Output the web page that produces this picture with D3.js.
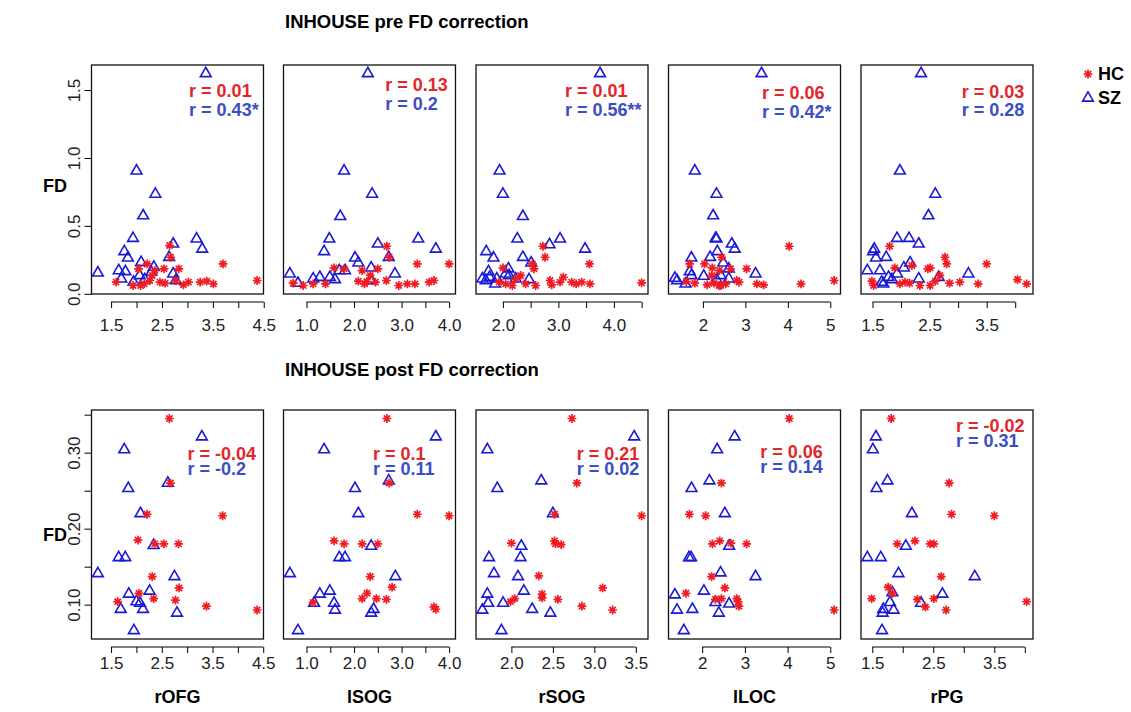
<!DOCTYPE html>
<html>
<head>
<meta charset="utf-8">
<script src="https://cdnjs.cloudflare.com/ajax/libs/d3/7.8.5/d3.min.js"></script>
<style>
body { margin: 0; background: #fff; }
svg { font-family: "Liberation Sans", Arial, sans-serif; }
</style>
</head>
<body>
<svg id="chart" width="1131" height="712"></svg>
<script>
var regions = ["rOFG", "lSOG", "rSOG", "lLOC", "rPG"];
var rowTitles = ["INHOUSE pre FD correction", "INHOUSE post FD correction"];

// pre FD correction: [region value, FD]
var hcPreROFG = [[2.65,0.355],[2.67,0.269],[3.70,0.22],[2.21,0.22],[2.04,0.184],[2.36,0.171],[2.54,0.184],[2.83,0.184],[2.31,0.135],[1.60,0.086],[2.08,0.061],[2.26,0.098],[2.46,0.086],[2.56,0.078],[2.77,0.098],[2.92,0.066],[3.02,0.086],[3.25,0.086],[3.38,0.093],[3.51,0.073],[4.37,0.098],[2.15,0.073],[1.93,0.061]];
var szPreROFG = [[3.36,1.622],[2.00,0.905],[2.37,0.734],[2.13,0.575],[1.93,0.409],[3.18,0.404],[2.72,0.367],[3.29,0.33],[1.76,0.311],[2.64,0.269],[1.83,0.264],[2.09,0.232],[2.34,0.196],[1.24,0.154],[1.65,0.171],[1.78,0.164],[2.72,0.147],[2.29,0.159],[2.06,0.135],[2.77,0.098],[1.70,0.11],[1.94,0.086],[2.16,0.105]];
var hcPreLSOG = [[2.69,0.35],[2.74,0.269],[3.33,0.22],[4.00,0.22],[1.58,0.191],[1.79,0.184],[2.17,0.171],[2.50,0.184],[2.34,0.135],[0.72,0.078],[0.93,0.061],[1.14,0.073],[1.40,0.073],[2.09,0.093],[2.22,0.073],[2.27,0.09],[2.68,0.098],[2.94,0.061],[3.12,0.073],[3.28,0.073],[3.58,0.086],[3.68,0.098],[2.45,0.086]];
var szPreLSOG = [[2.29,1.622],[1.79,0.905],[2.38,0.734],[1.71,0.57],[1.48,0.404],[3.35,0.404],[1.37,0.311],[2.50,0.367],[3.72,0.33],[2.73,0.269],[2.02,0.264],[2.09,0.228],[2.36,0.191],[0.65,0.147],[1.69,0.171],[1.81,0.171],[2.86,0.147],[1.28,0.122],[1.14,0.11],[1.49,0.122],[1.60,0.105],[2.36,0.098],[0.82,0.078]];
var hcPreRSOG = [[2.72,0.35],[2.76,0.269],[3.56,0.22],[2.53,0.22],[2.00,0.191],[2.56,0.184],[2.32,0.135],[2.23,0.11],[2.85,0.098],[2.88,0.066],[3.03,0.086],[3.09,0.122],[3.24,0.086],[3.32,0.073],[3.42,0.086],[3.57,0.073],[4.50,0.081],[2.05,0.073],[2.17,0.061],[2.41,0.073],[2.59,0.061],[1.93,0.086]];
var szPreRSOG = [[3.75,1.622],[1.94,0.905],[2.00,0.734],[2.36,0.57],[2.26,0.404],[3.03,0.404],[2.84,0.362],[3.48,0.33],[1.70,0.311],[1.83,0.264],[2.36,0.269],[2.51,0.228],[2.10,0.184],[1.74,0.164],[1.63,0.11],[2.11,0.135],[1.76,0.122],[1.89,0.11],[2.23,0.11],[2.47,0.105],[1.86,0.073],[2.05,0.147],[1.69,0.098]];
var hcPreLLOC = [[4.03,0.35],[2.44,0.269],[1.69,0.22],[2.04,0.22],[2.22,0.191],[2.39,0.171],[2.65,0.184],[3.03,0.184],[2.21,0.135],[1.61,0.09],[1.81,0.078],[2.10,0.066],[2.26,0.078],[2.38,0.061],[2.54,0.073],[2.80,0.098],[2.85,0.086],[3.27,0.073],[3.43,0.066],[4.31,0.073],[5.09,0.098],[2.42,0.061]];
var szPreLLOC = [[3.38,1.622],[1.81,0.905],[2.32,0.734],[2.24,0.575],[2.30,0.409],[2.32,0.404],[2.68,0.367],[2.75,0.33],[2.34,0.311],[1.73,0.264],[2.17,0.269],[2.48,0.228],[2.61,0.184],[1.69,0.164],[1.34,0.115],[3.24,0.147],[2.02,0.13],[1.73,0.135],[2.42,0.135],[2.61,0.11],[1.59,0.073],[2.32,0.105],[1.39,0.098]];
var hcPreRPG = [[1.80,0.35],[2.77,0.269],[2.80,0.22],[3.50,0.22],[1.89,0.191],[2.19,0.208],[2.47,0.184],[2.51,0.191],[2.68,0.135],[1.49,0.093],[1.52,0.061],[1.98,0.073],[2.07,0.086],[2.15,0.078],[2.33,0.061],[2.51,0.061],[2.60,0.093],[2.85,0.078],[3.03,0.086],[3.35,0.073],[4.04,0.105],[4.20,0.073]];
var szPreRPG = [[2.35,1.622],[1.98,0.905],[2.60,0.734],[2.48,0.575],[1.93,0.409],[2.14,0.409],[2.31,0.367],[1.53,0.33],[1.51,0.311],[1.74,0.269],[1.56,0.264],[2.16,0.228],[2.05,0.191],[1.41,0.171],[1.63,0.171],[3.18,0.147],[1.93,0.147],[2.66,0.122],[2.31,0.11],[1.78,0.122],[1.66,0.086],[1.84,0.105],[1.69,0.073]];

// post FD correction
var hcPostROFG = [[2.65,0.345],[2.67,0.260],[3.70,0.217],[2.21,0.219],[2.03,0.185],[2.36,0.180],[2.54,0.180],[2.83,0.180],[2.31,0.137],[2.84,0.122],[2.05,0.115],[2.34,0.108],[1.63,0.104],[2.77,0.106],[3.38,0.098],[4.38,0.093]];
var szPostROFG = [[3.29,0.321],[1.76,0.304],[2.62,0.260],[1.84,0.253],[2.08,0.220],[2.34,0.178],[1.65,0.162],[1.78,0.162],[1.24,0.141],[2.75,0.137],[2.26,0.118],[1.85,0.114],[2.00,0.104],[2.07,0.102],[1.69,0.094],[2.13,0.094],[2.80,0.089],[1.95,0.066]];
var hcPostLSOG = [[2.69,0.345],[2.74,0.260],[3.33,0.219],[4.00,0.217],[1.58,0.184],[1.79,0.180],[2.17,0.180],[2.50,0.180],[2.34,0.137],[2.80,0.123],[2.27,0.115],[2.17,0.108],[2.47,0.108],[2.68,0.107],[1.14,0.103],[3.68,0.097],[3.72,0.094]];
var szPostLSOG = [[3.72,0.321],[1.37,0.304],[2.73,0.263],[2.02,0.253],[2.09,0.220],[2.36,0.177],[1.69,0.162],[1.81,0.162],[0.65,0.141],[2.87,0.137],[1.49,0.118],[1.28,0.114],[1.16,0.102],[1.58,0.102],[1.60,0.093],[2.41,0.094],[2.36,0.089],[0.82,0.066]];
var hcPostRSOG = [[2.73,0.345],[2.79,0.260],[3.57,0.217],[2.52,0.219],[2.00,0.181],[2.52,0.184],[2.53,0.180],[2.60,0.179],[2.33,0.138],[3.10,0.122],[2.37,0.114],[2.37,0.109],[2.04,0.108],[1.99,0.104],[2.56,0.107],[2.85,0.098],[3.22,0.093]];
var szPostRSOG = [[3.48,0.321],[1.71,0.304],[2.36,0.263],[1.83,0.253],[2.50,0.220],[2.12,0.177],[1.73,0.162],[2.11,0.162],[1.79,0.141],[2.08,0.137],[2.15,0.118],[1.71,0.114],[1.90,0.102],[1.72,0.102],[1.65,0.093],[2.25,0.094],[2.47,0.089],[1.88,0.066]];
var hcPostLLOC = [[4.04,0.345],[2.45,0.260],[1.70,0.219],[2.08,0.217],[2.24,0.180],[2.41,0.184],[2.67,0.181],[3.04,0.180],[2.22,0.137],[2.53,0.122],[1.62,0.115],[2.31,0.107],[2.45,0.108],[2.81,0.108],[2.84,0.104],[2.86,0.098],[5.09,0.093]];
var szPostLLOC = [[2.76,0.321],[2.35,0.304],[2.17,0.263],[1.75,0.253],[2.53,0.220],[2.63,0.177],[1.69,0.162],[1.74,0.162],[1.36,0.113],[3.25,0.137],[2.43,0.142],[2.04,0.118],[2.31,0.103],[2.63,0.101],[1.41,0.093],[1.77,0.094],[2.39,0.089],[1.57,0.066]];
var hcPostRPG = [[1.81,0.345],[2.76,0.260],[2.80,0.219],[3.50,0.217],[1.91,0.180],[2.20,0.184],[2.45,0.180],[2.51,0.180],[2.63,0.137],[1.76,0.123],[1.83,0.115],[1.49,0.108],[2.24,0.107],[2.51,0.108],[2.37,0.097],[2.71,0.093],[4.03,0.104]];
var szPostRPG = [[1.56,0.321],[1.51,0.304],[1.75,0.263],[1.57,0.253],[2.15,0.220],[2.05,0.177],[1.42,0.162],[1.64,0.162],[1.93,0.141],[3.18,0.137],[1.83,0.116],[2.65,0.114],[1.79,0.103],[2.30,0.102],[1.68,0.094],[1.85,0.093],[1.67,0.089],[1.66,0.066]];

// correlations
var rHCPre = ["0.01", "0.13", "0.01", "0.06", "0.03"];
var rSZPre = ["0.43*", "0.2", "0.56**", "0.42*", "0.28"];
var rHCPost = ["-0.04", "0.1", "0.21", "0.06", "-0.02"];
var rSZPost = ["-0.2", "0.11", "0.02", "0.14", "0.31"];

// axis ticks
var xTicksPre = [[1.5,2,2.5,3,3.5,4,4.5],[1,1.5,2,2.5,3,3.5,4],[2,2.5,3,3.5,4,4.5],[2,3,4,5],[1.5,2,2.5,3,3.5,4]];
var xTickLabelsPre = [["1.5","","2.5","","3.5","","4.5"],["1.0","","2.0","","3.0","","4.0"],["2.0","","3.0","","4.0",""],["2","3","4","5"],["1.5","","2.5","","3.5",""]];
var xTicksPost = [[1.5,2,2.5,3,3.5,4,4.5],[1,1.5,2,2.5,3,3.5,4],[2,2.5,3,3.5],[2,3,4,5],[1.5,2,2.5,3,3.5,4]];
var xTickLabelsPost = [["1.5","","2.5","","3.5","","4.5"],["1.0","","2.0","","3.0","","4.0"],["2.0","2.5","3.0","3.5"],["2","3","4","5"],["1.5","","2.5","","3.5",""]];
var yTicksPre = [0, 0.5, 1.0, 1.5];
var yTickLabelsPre = ["0.0", "0.5", "1.0", "1.5"];
var yTicksPost = [0.10, 0.15, 0.20, 0.25, 0.30, 0.35];
var yTickLabelsPost = ["0.10", "", "0.20", "", "0.30", ""];

var RED = "#f01c24", BLUE = "#1a1ad6", RED_TXT = "#e3262b", BLUE_TXT = "#3c4ec6";
var BOX_W = 172, BOX_H = 229;
var boxLefts = [91.5, 283.5, 476, 668.5, 861];

var rows = [
    { top: 65, title: rowTitles[0], titleY: 21, fdY: 186,
      hc: [hcPreROFG, hcPreLSOG, hcPreRSOG, hcPreLLOC, hcPreRPG],
      sz: [szPreROFG, szPreLSOG, szPreRSOG, szPreLLOC, szPreRPG],
      rHC: rHCPre, rSZ: rSZPre, xTicks: xTicksPre, xLabels: xTickLabelsPre,
      yTicks: yTicksPre, yLabels: yTickLabelsPre, tickLabelDy: 31, showXTitle: false,
      lab: [[97.6, 26], [101.7, 20], [89, 26], [93.4, 28], [100.7, 26.5]], labGap: 18.3 },
    { top: 410, title: rowTitles[1], titleY: 369, fdY: 535,
      hc: [hcPostROFG, hcPostLSOG, hcPostRSOG, hcPostLLOC, hcPostRPG],
      sz: [szPostROFG, szPostLSOG, szPostRSOG, szPostLLOC, szPostRPG],
      rHC: rHCPost, rSZ: rSZPost, xTicks: xTicksPost, xLabels: xTickLabelsPost,
      yTicks: yTicksPost, yLabels: yTickLabelsPost, tickLabelDy: 24, showXTitle: true,
      lab: [[96, 43.7], [89.4, 44], [100.7, 43.3], [91.7, 42], [95, 15.7]], labGap: 14.8 }
];

var svg = d3.select("#chart");

// R style axis limits: data range plus 4%
function padRange(ext) {
    var d = (ext[1] - ext[0]) * 0.04;
    return [ext[0] - d, ext[1] + d];
}

function asteriskPath(r) {
    var d = r * Math.SQRT1_2;
    return "M" + (-r) + ",0L" + r + ",0M0," + (-r) + "L0," + r +
        "M" + (-d) + "," + (-d) + "L" + d + "," + d + "M" + (-d) + "," + d + "L" + d + "," + (-d);
}

function trianglePath(xc) {
    var r = 1.5551 * xc, w = 1.3468 * xc, yc = 0.7776 * xc;
    return "M0," + (-r) + "L" + w + "," + yc + "L" + (-w) + "," + yc + "Z";
}

rows.forEach(function(row) {
    svg.append("text")
        .attr("x", 285)
        .attr("y", row.titleY)
        .attr("dy", "0.36em")
        .style("font-size", "18.5px")
        .style("font-weight", "bold")
        .text(row.title);

    var allY = [];
    row.hc.concat(row.sz).forEach(function(a) { a.forEach(function(p) { allY.push(p[1]); }); });
    var y = d3.scaleLinear()
        .domain(padRange(d3.extent(allY)))
        .range([row.top + BOX_H, row.top]);

    // y axis on the first panel only
    var yAxis = svg.append("g")
        .attr("class", "y axis")
        .attr("transform", "translate(" + boxLefts[0] + ",0)")
        .call(d3.axisLeft(y).tickValues(row.yTicks).tickSize(7).tickSizeOuter(0)
            .tickFormat(function(d, i) { return row.yLabels[i]; }));
    yAxis.select(".domain").remove();
    yAxis.selectAll(".tick line").attr("stroke", "#000");
    yAxis.selectAll(".tick text")
        .attr("x", 0).attr("dy", 0)
        .attr("transform", "translate(-17,0) rotate(-90)")
        .attr("text-anchor", "middle")
        .attr("dominant-baseline", "central")
        .attr("fill", "#222")
        .style("font-size", "17px")
        .style("font-family", "'Liberation Sans', Arial, sans-serif");

    svg.append("text")
        .attr("x", 55)
        .attr("y", row.fdY)
        .attr("dy", "0.36em")
        .attr("text-anchor", "middle")
        .style("font-size", "18px")
        .style("font-weight", "bold")
        .text("FD");

    regions.forEach(function(region, i) {
        var hc = row.hc[i], sz = row.sz[i];
        var left = boxLefts[i];
        var allX = hc.concat(sz).map(function(p) { return p[0]; });
        var x = d3.scaleLinear()
            .domain(padRange(d3.extent(allX)))
            .range([left, left + BOX_W]);

        var panel = svg.append("g").attr("class", "panel");

        var ticks = row.xTicks[i], labels = row.xLabels[i];
        var axisY = row.top + BOX_H + 8;
        var xAxis = panel.append("g")
            .attr("class", "x axis")
            .attr("transform", "translate(0," + axisY + ")")
            .call(d3.axisBottom(x).tickValues(ticks).tickSize(6).tickSizeOuter(0)
                .tickFormat(function(t, k) { return labels[k]; }));
        xAxis.select(".domain").remove();
        xAxis.append("line")
            .attr("x1", x(ticks[0]))
            .attr("x2", x(ticks[ticks.length - 1]))
            .attr("stroke", "#000");
        xAxis.selectAll(".tick text")
            .attr("y", 0)
            .attr("dy", 0)
            .attr("transform", "translate(0," + (row.tickLabelDy - 8) + ")")
            .attr("dominant-baseline", "central")
            .attr("fill", "#222")
            .style("font-size", "17px")
            .style("font-family", "'Liberation Sans', Arial, sans-serif");

        if (row.showXTitle) {
            panel.append("text")
                .attr("x", left + BOX_W / 2)
                .attr("y", 697)
                .attr("dy", "0.36em")
                .attr("text-anchor", "middle")
                .style("font-size", "18px")
                .style("font-weight", "bold")
                .text(region);
        }

        panel.append("rect")
            .attr("x", left)
            .attr("y", row.top)
            .attr("width", BOX_W)
            .attr("height", BOX_H)
            .attr("fill", "none")
            .attr("stroke", "#111")
            .attr("stroke-width", 1.3);

        panel.selectAll(".sz")
            .data(sz)
            .enter().append("path")
            .attr("class", "sz")
            .attr("d", trianglePath(4))
            .attr("transform", function(d) { return "translate(" + x(d[0]) + "," + y(d[1]) + ")"; })
            .attr("fill", "none")
            .attr("stroke", BLUE)
            .attr("stroke-width", 1.6);

        panel.selectAll(".hc")
            .data(hc)
            .enter().append("path")
            .attr("class", "hc")
            .attr("d", asteriskPath(4.4))
            .attr("transform", function(d) { return "translate(" + x(d[0]) + "," + y(d[1]) + ")"; })
            .attr("fill", "none")
            .attr("stroke", RED)
            .attr("stroke-width", 1.7);

        var lx = left + row.lab[i][0], ly = row.top + row.lab[i][1];
        panel.append("text")
            .attr("x", lx).attr("y", ly).attr("dy", "0.36em")
            .attr("fill", RED_TXT)
            .style("font-size", "18px").style("font-weight", "bold")
            .text("r = " + row.rHC[i]);
        panel.append("text")
            .attr("x", lx).attr("y", ly + row.labGap).attr("dy", "0.36em")
            .attr("fill", BLUE_TXT)
            .style("font-size", "18px").style("font-weight", "bold")
            .text("r = " + row.rSZ[i]);
    });
});

// legend
var legend = svg.append("g").attr("class", "legend");
legend.append("path")
    .attr("d", asteriskPath(4.4))
    .attr("transform", "translate(1088,74)")
    .attr("fill", "none").attr("stroke", RED).attr("stroke-width", 1.7);
legend.append("path")
    .attr("d", trianglePath(4))
    .attr("transform", "translate(1088,98)")
    .attr("fill", "none").attr("stroke", BLUE).attr("stroke-width", 1.6);
legend.append("text")
    .attr("x", 1098).attr("y", 74).attr("dy", "0.36em")
    .style("font-size", "18px").style("font-weight", "bold")
    .text("HC");
legend.append("text")
    .attr("x", 1098).attr("y", 98).attr("dy", "0.36em")
    .style("font-size", "18px").style("font-weight", "bold")
    .text("SZ");
</script>
</body>
</html>
